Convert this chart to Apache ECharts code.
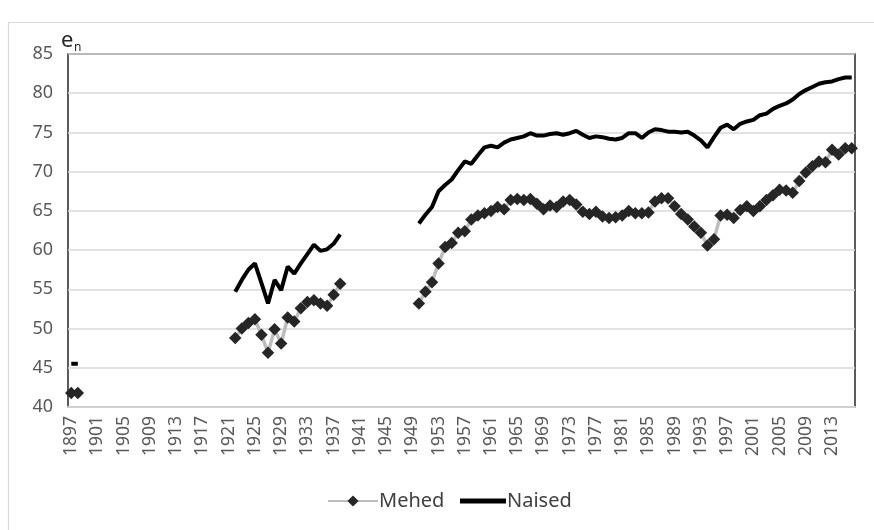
<!DOCTYPE html>
<html>
<head>
<meta charset="utf-8">
<script src="https://cdn.jsdelivr.net/npm/echarts@6/dist/echarts.min.js"></script>
<style>
  html, body { margin: 0; padding: 0; background: #fff; }
  #chart { width: 874px; height: 530px; }
</style>
</head>
<body>
<div id="chart"></div>
<script>
// Categories: years 1897..2016
const years = [];
for (let y = 1897; y <= 2016; y++) years.push(String(y));

// Gaps (years without data)
const gap1899_1921 = Array(23).fill(null);
const gap1939_1949 = Array(11).fill(null);

// Mehed (men) life expectancy at birth
const mehed1897 = [41.8, 41.8];
const mehed1922 = [48.8, 50.0, 50.7, 51.2, 49.2, 46.9, 49.9, 48.1, 51.4, 50.9, 52.6, 53.4, 53.6, 53.2, 52.9, 54.3, 55.7];
const mehed1950 = [
  53.2, 54.7, 55.9, 58.3, 60.4, 60.9, 62.2, 62.4, 63.9, 64.4,
  64.7, 65.0, 65.5, 65.2, 66.4, 66.5, 66.4, 66.5, 65.9, 65.2,
  65.7, 65.5, 66.2, 66.4, 65.8, 64.9, 64.6, 64.9, 64.3, 64.1,
  64.2, 64.4, 65.0, 64.7, 64.7, 64.8, 66.2, 66.6, 66.6, 65.6,
  64.6, 63.9, 63.0, 62.2, 60.6, 61.4, 64.4, 64.5, 64.1, 65.1,
  65.6, 65.0, 65.6, 66.4, 67.0, 67.7, 67.6, 67.3, 68.8, 69.9,
  70.7, 71.3, 71.2, 72.8, 72.2, 73.0, 73.0
];

// Naised (women) life expectancy at birth
const naised1897 = [45.5, 45.5];
const naised1922 = [54.7, 56.2, 57.5, 58.3, 55.8, 53.2, 56.2, 54.9, 57.9, 57.0, 58.3, 59.5, 60.7, 59.9, 60.1, 60.8, 62.0];
const naised1950 = [
  63.4, 64.5, 65.5, 67.5, 68.3, 69.0, 70.2, 71.3, 71.0, 72.1,
  73.1, 73.3, 73.1, 73.7, 74.1, 74.3, 74.5, 74.9, 74.6, 74.6,
  74.8, 74.9, 74.7, 74.9, 75.2, 74.7, 74.3, 74.5, 74.4, 74.2,
  74.1, 74.3, 74.9, 74.9, 74.3, 75.0, 75.4, 75.3, 75.1, 75.1,
  75.0, 75.1, 74.6, 74.0, 73.1, 74.4, 75.6, 76.0, 75.4, 76.1,
  76.4, 76.6, 77.2, 77.4, 78.0, 78.4, 78.7, 79.2, 79.9, 80.4,
  80.8, 81.2, 81.4, 81.5, 81.8, 82.0, 82.0
];

const mehed = [].concat(mehed1897, gap1899_1921, mehed1922, gap1939_1949, mehed1950);
const naised = [].concat(naised1897, gap1899_1921, naised1922, gap1939_1949, naised1950);

const seriesNames = ['Mehed', 'Naised'];
const yTicks = { min: 40, max: 85, interval: 5 };

const chart = echarts.init(document.getElementById('chart'), null, { renderer: 'canvas' });
const FONT = 'Noto Sans';
const diamond = 'path://M0,-10 L10,0 L0,10 L-10,0 Z';
const legendText = { fontSize: 20, color: '#404040', fontFamily: FONT, padding: [0, 0, 0, -4] };

chart.setOption({
  backgroundColor: '#ffffff',
  animation: false,
  textStyle: { fontFamily: FONT },
  graphic: [
    { type: 'rect', left: 6, top: 20, shape: { width: 880, height: 530 },
      style: { fill: 'none', stroke: '#d9d9d9', lineWidth: 1.2 }, silent: true },
    { type: 'text', left: 61, top: 30, style: { text: 'e', fontSize: 22, fill: '#262626', fontFamily: FONT } },
    { type: 'text', left: 74, top: 42, style: { text: 'n', fontSize: 12, fill: '#262626', fontFamily: FONT } }
  ],
  grid: {
    left: 68, right: 19, top: 54, bottom: 123,
    show: true, borderColor: '#262626', borderWidth: 1.5, backgroundColor: 'transparent'
  },
  legend: [
    {
      data: [{ name: seriesNames[0] }],
      top: 486, left: 322,
      itemWidth: 50, itemHeight: 14,
      textStyle: legendText
    },
    {
      data: [{ name: seriesNames[1], icon: 'rect' }],
      top: 486, left: 455,
      itemWidth: 46, itemHeight: 5,
      textStyle: legendText
    }
  ],
  xAxis: {
    type: 'category',
    data: years,
    boundaryGap: true,
    axisLine: { show: true, lineStyle: { color: '#d0d0d0', width: 2 } },
    axisTick: { show: false },
    axisLabel: {
      interval: 3, rotate: 90, fontSize: 17.5, color: '#595959', fontFamily: FONT, margin: 9
    },
    splitLine: { show: false }
  },
  yAxis: {
    type: 'value',
    min: yTicks.min, max: yTicks.max, interval: yTicks.interval,
    axisLine: { show: false },
    axisTick: { show: false },
    axisLabel: { fontSize: 18, color: '#595959', fontFamily: FONT, margin: 15 },
    splitLine: { show: true, lineStyle: { color: '#d9d9d9', width: 1.5 } }
  },
  series: [
    {
      name: seriesNames[0], type: 'line', data: mehed,
      connectNulls: false,
      symbol: diamond, symbolSize: 12.5, showSymbol: true, showAllSymbol: true,
      lineStyle: { color: '#bdbdbd', width: 3.5 },
      itemStyle: { color: '#262626', borderColor: '#262626', borderWidth: 0 },
      z: 3
    },
    {
      name: seriesNames[1], type: 'line', data: naised,
      connectNulls: false,
      symbol: 'none', showSymbol: false,
      lineStyle: { color: '#000000', width: 4 },
      itemStyle: { color: '#000000' },
      z: 4
    }
  ]
});
</script>
</body>
</html>
